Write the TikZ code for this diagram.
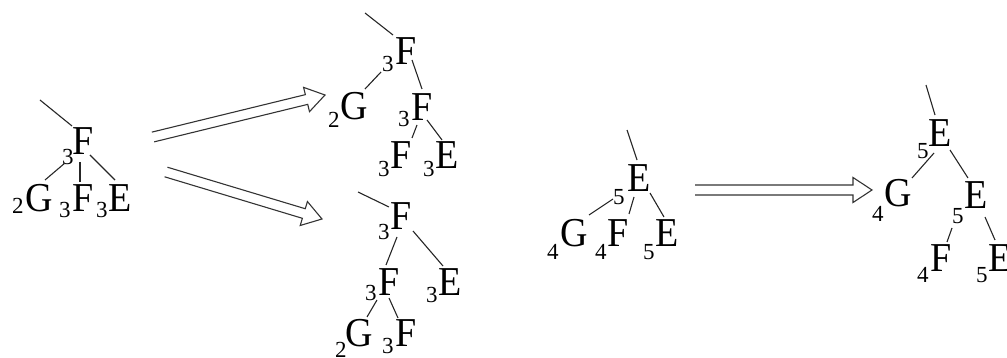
\documentclass[tikz,border=0pt]{standalone}
\usepackage{fontspec}
\usepackage{graphicx}
\setmainfont{Liberation Serif}
\usetikzlibrary{calc}
\newcommand\tall[1]{\scalebox{1}[1.08]{#1}}
\tikzset{
  letter/.style={inner sep=0pt, anchor=base west, font=\fontsize{38}{40}\selectfont},
  subs/.style={inner sep=0pt, anchor=base west, font=\fontsize{23}{24}\selectfont},
  edge/.style={line width=1.1pt, draw=black!85},
  hollow/.style={line width=1.1pt, draw=black!80, line join=miter}
}
\newcommand\hollowarrow[2]{%
  \coordinate (#1-h) at ($(#2)!19pt!(#1)$);
  \draw[hollow] ($(#1)!5pt!90:(#2)$) -- ($(#1-h)!5pt!90:(#2)$) -- ($(#1-h)!12.5pt!90:(#2)$)
    -- (#2) -- ($(#1-h)!12.5pt!-90:(#2)$) -- ($(#1-h)!5pt!-90:(#2)$) -- ($(#1)!5pt!-90:(#2)$);}
\begin{document}
\begin{tikzpicture}[x=1pt,y=-1pt]
\useasboundingbox (0,0) rectangle (1007,358);
% ---------- tree 1
\node[letter] (r1) at (72,155) {\tall{F}};  \node[subs] (r1s) at (62,165) {3};
\node[letter] (a1) at (25,212) {\tall{G}};  \node[subs] (a1s) at (12,214) {2};
\node[letter] (b1) at (72,212) {\tall{F}};  \node[subs] (b1s) at (59,218) {3};
\node[letter] (c1) at (108,212) {\tall{E}}; \node[subs] (c1s) at (96,218) {3};
\draw[edge] ([shift={(0,-29)}]r1.base west) -- ++(-32,-26);
\draw[edge] ([shift={(-7,8)}]r1.base west) -- ([shift={(20,-32)}]a1.base west);
\draw[edge] ([shift={(8,7)}]r1.base west) -- ([shift={(8,-30)}]b1.base west);
\draw[edge] ([shift={(18,0)}]r1.base west) -- ([shift={(7,-32)}]c1.base west);
% ---------- tree 2 (top)
\node[letter] (r2) at (395,65) {\tall{F}};  \node[subs] (r2s) at (382,72) {3};
\node[letter] (a2) at (340,120) {\tall{G}}; \node[subs] (a2s) at (328,128) {2};
\node[letter] (b2) at (411,121) {\tall{F}}; \node[subs] (b2s) at (398,127) {3};
\node[letter] (c2) at (390,169) {\tall{F}}; \node[subs] (c2s) at (378,177) {3};
\node[letter] (d2) at (435,169) {\tall{E}}; \node[subs] (d2s) at (423,177) {3};
\draw[edge] ([shift={(-2,-30)}]r2.base west) -- ++(-28,-22);
\draw[edge] ([shift={(-14,7)}]r2.base west) -- ([shift={(25,-31)}]a2.base west);
\draw[edge] ([shift={(17,-5)}]r2.base west) -- ([shift={(11,-32)}]b2.base west);
\draw[edge] ([shift={(6,4)}]b2.base west) -- ([shift={(22,-31)}]c2.base west);
\draw[edge] ([shift={(16,-1)}]b2.base west) -- ([shift={(7,-29)}]d2.base west);
% ---------- tree 2 (bottom)
\node[letter] (r3) at (390,230) {\tall{F}}; \node[subs] (r3s) at (378,240) {3};
\node[letter] (a3) at (378,295) {\tall{F}}; \node[subs] (a3s) at (365,300) {3};
\node[letter] (b3) at (438,295) {\tall{E}}; \node[subs] (b3s) at (426,302) {3};
\node[letter] (c3) at (345,346) {\tall{G}}; \node[subs] (c3s) at (335,357) {2};
\node[letter] (d3) at (395,346) {\tall{F}}; \node[subs] (d3s) at (382,353) {3};
\draw[edge] ([shift={(-1,-23)}]r3.base west) -- ++(-31,-15);
\draw[edge] ([shift={(7,7)}]r3.base west) -- ([shift={(8,-30)}]a3.base west);
\draw[edge] ([shift={(23,1)}]r3.base west) -- ([shift={(5,-29)}]b3.base west);
\draw[edge] ([shift={(-1,5)}]a3.base west) -- ([shift={(22,-29)}]c3.base west);
\draw[edge] ([shift={(11,3)}]a3.base west) -- ([shift={(3,-28)}]d3.base west);
% ---------- tree 3
\node[letter] (r4) at (627,192) {\tall{E}}; \node[subs] (r4s) at (613,205) {5};
\node[letter] (a4) at (560,247) {\tall{G}}; \node[subs] (a4s) at (547,260) {4};
\node[letter] (b4) at (607,247) {\tall{F}}; \node[subs] (b4s) at (595,260) {4};
\node[letter] (c4) at (655,247) {\tall{E}}; \node[subs] (c4s) at (643,260) {5};
\draw[edge] ([shift={(10,-32)}]r4.base west) -- ++(-10,-30);
\draw[edge] ([shift={(-14,7)}]r4.base west) -- ([shift={(29,-32)}]a4.base west);
\draw[edge] ([shift={(7,5)}]r4.base west) -- ([shift={(22,-33)}]b4.base west);
\draw[edge] ([shift={(23,1)}]r4.base west) -- ([shift={(9,-30)}]c4.base west);
% ---------- tree 4
\node[letter] (r5) at (928,147) {\tall{E}}; \node[subs] (r5s) at (917,159) {5};
\node[letter] (a5) at (884,207) {\tall{G}}; \node[subs] (a5s) at (872,222) {4};
\node[letter] (b5) at (964,209) {\tall{E}}; \node[subs] (b5s) at (952,224) {5};
\node[letter] (c5) at (930,272) {\tall{F}}; \node[subs] (c5s) at (917,283) {4};
\node[letter] (d5) at (988,272) {\tall{E}}; \node[subs] (d5s) at (976,283) {5};
\draw[edge] ([shift={(7,-32)}]r5.base west) -- ++(-9,-30);
\draw[edge] ([shift={(6,6)}]r5.base west) -- ([shift={(28,-29)}]a5.base west);
\draw[edge] ([shift={(22,3)}]r5.base west) -- ([shift={(4,-31)}]b5.base west);
\draw[edge] ([shift={(-12,19)}]b5.base west) -- ([shift={(17,-30)}]c5.base west);
\draw[edge] ([shift={(21,8)}]b5.base west) -- ([shift={(7,-32)}]d5.base west);
% ---------- arrows
\coordinate (ar1) at (153,137); \coordinate (ar1tip) at (325,95);
\coordinate (ar2) at (166,172); \coordinate (ar2tip) at (322,219);
\coordinate (ar3) at (695,190); \coordinate (ar3tip) at (872,190);
\hollowarrow{ar1}{ar1tip}
\hollowarrow{ar2}{ar2tip}
\hollowarrow{ar3}{ar3tip}
\end{tikzpicture}
\end{document}
